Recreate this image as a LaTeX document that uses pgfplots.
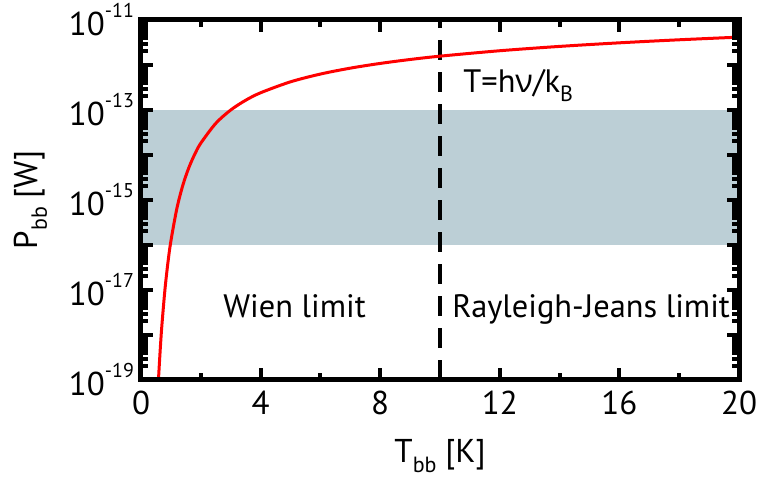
\documentclass[border=0pt]{standalone}
\usepackage{fontspec}
\setmainfont{PT Sans}
\newfontfamily\greekfont{Open Sans}
\usepackage{pgfplots}
\pgfplotsset{compat=1.18}
\usetikzlibrary{calc}
\definecolor{band}{RGB}{188,207,214}
\newcommand{\sups}[1]{\raisebox{0.55em}{\fontsize{10}{10}\selectfont #1}}
\newcommand{\subs}[1]{\raisebox{-0.3em}{\fontsize{11}{11}\selectfont #1}}
\begin{document}
\begin{tikzpicture}
\begin{axis}[
  name=ax,
  scale only axis, width=299pt, height=180pt,
  xmin=0, xmax=20, ymode=log, ymin=1e-19, ymax=1e-11,
  xtick={0,4,8,12,16,20}, minor xtick={2,6,10,14,18},
  ytick={1e-19,1e-18,1e-17,1e-16,1e-15,1e-14,1e-13,1e-12,1e-11},
  yticklabels={10\sups{-19},,10\sups{-17},,10\sups{-15},,10\sups{-13},,10\sups{-11}},
  xticklabels={0,4,8,12,16,20},
  tick align=inside, major tick length=6pt, minor tick length=3.5pt,
  tick style={line width=2pt, black},
  axis line style={line width=2.5pt},
  axis on top,
  ticklabel style={font=\fontsize{16.5}{18}\selectfont},
  xticklabel style={yshift=-2pt},
  /pgf/number format/assume math mode=true,
  xlabel={T\subs{bb} [K]}, ylabel={P\subs{bb} [W]},
  label style={font=\fontsize{16.5}{18}\selectfont},
  xlabel style={at={(axis description cs:0.5,-0.212)}, anchor=center},
  ylabel style={at={(axis description cs:-0.185,0.5)}, anchor=center, rotate=0},
]
\addplot[fill=band, draw=none] coordinates {(0,1e-16) (20,1e-16) (20,1e-13) (0,1e-13)} -- cycle;
\addplot[black, line width=2pt, dash pattern=on 10pt off 6pt] coordinates {(10,1e-19) (10,1e-11)};
\addplot[red, line width=1.5pt, smooth] coordinates {
(0.58,8.77e-20) (0.6,1.56e-19) (0.65,5.62e-19) (0.7,1.687e-18) (0.8,1.006e-17)
(0.9,4.035e-17) (1.0,1.226e-16) (1.2,6.49e-16) (1.4,2.136e-15) (1.6,5.22e-15)
(1.8,1.048e-14) (2.0,1.832e-14) (2.5,5.04e-14) (3.0,9.99e-14) (3.5,1.645e-13)
(4,2.415e-13) (5,4.226e-13) (6,6.29e-13) (7,8.51e-13) (8,1.084e-12)
(9,1.325e-12) (10,1.571e-12) (12,2.075e-12) (14,2.589e-12) (16,3.110e-12)
(18,3.634e-12) (20,4.162e-12)};
\node[anchor=base west, inner sep=0pt, font=\fontsize{16.2}{18}\selectfont] at (axis cs:2.74,2.4e-18) {Wien limit};
\node[anchor=base west, inner sep=0pt, font=\fontsize{16.2}{18}\selectfont] at (axis cs:10.4,2.4e-18) {Rayleigh-Jeans limit};
\node[anchor=base west, inner sep=0pt, font=\fontsize{16.2}{18}\selectfont] at (axis cs:10.77,2.5e-13) {T=h{\greekfont ν}/k\subs{B}};
\end{axis}
\pgfresetboundingbox
\path[use as bounding box] ($(ax.south west)+(-70.5pt,-49.5pt)$) rectangle ($(ax.north east)+(11pt,10pt)$);
\end{tikzpicture}
\end{document}
